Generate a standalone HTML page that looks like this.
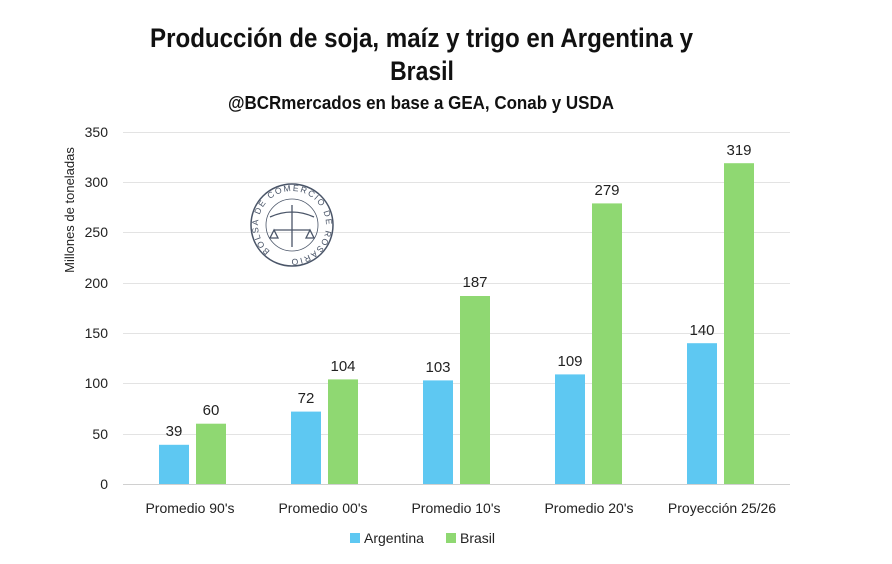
<!DOCTYPE html>
<html><head><meta charset="utf-8"><style>
body{margin:0;background:#fff;width:892px;height:559px;overflow:hidden}
svg text{font-family:"Liberation Sans",sans-serif}
</style></head><body>
<svg width="892" height="559" xmlns="http://www.w3.org/2000/svg">
<text x="150" y="47" textLength="543" lengthAdjust="spacingAndGlyphs" font-weight="bold" font-size="27" fill="#111">Producción de soja, maíz y trigo en Argentina y</text>
<text x="422" y="80" text-anchor="middle" font-weight="bold" font-size="27" fill="#111" transform="translate(422,0) scale(0.85,1) translate(-422,0)">Brasil</text>
<text x="228" y="109" textLength="386" lengthAdjust="spacingAndGlyphs" font-weight="bold" font-size="18" fill="#111">@BCRmercados en base a GEA, Conab y USDA</text>
<g stroke="#e3e3e3" stroke-width="1">
<line x1="123" x2="790" y1="132.5" y2="132.5"/><line x1="123" x2="790" y1="182.5" y2="182.5"/>
<line x1="123" x2="790" y1="232.5" y2="232.5"/><line x1="123" x2="790" y1="283.5" y2="283.5"/>
<line x1="123" x2="790" y1="333.5" y2="333.5"/><line x1="123" x2="790" y1="383.5" y2="383.5"/>
<line x1="123" x2="790" y1="434.5" y2="434.5"/><line x1="123" x2="790" y1="484.5" y2="484.5" stroke="#d0d0d0"/>
</g>
<g font-size="14" fill="#222" text-anchor="end">
<text x="108" y="137">350</text><text x="108" y="187">300</text><text x="108" y="237">250</text>
<text x="108" y="288">200</text><text x="108" y="338">150</text><text x="108" y="388">100</text>
<text x="108" y="439">50</text><text x="108" y="489">0</text>
</g>
<text transform="translate(74,210) rotate(-90)" text-anchor="middle" font-size="13" fill="#222">Millones de toneladas</text>
<g transform="translate(292,225)" fill="none" stroke="#4a5568">
<circle r="41" stroke-width="1.5"/><circle r="26" stroke-width="0.8"/>
<path d="M0,-20 V22 M-22,-8 Q0,-18 22,-8 M-18,5 H18 M-18,5 l-4,8 h8 z M18,5 l-4,8 h8z" stroke-width="1.3"/>
</g>
<defs><path id="arc" d="M0,34 A34,34 0 1,1 0.1,34"/></defs>
<text transform="translate(292,225) rotate(40)" font-size="8.6" fill="#4a5568" textLength="190" lengthAdjust="spacing"><textPath href="#arc" textLength="190">BOLSA DE COMERCIO DE ROSARIO</textPath></text>
<g fill="#5ec8f2">
<rect x="159" y="444.8" width="30" height="39.2"/><rect x="291" y="411.6" width="30" height="72.4"/>
<rect x="423" y="380.4" width="30" height="103.6"/><rect x="555" y="374.4" width="30" height="109.6"/>
<rect x="687" y="343.2" width="30" height="140.8"/>
</g>
<g fill="#8fd872">
<rect x="196" y="423.7" width="30" height="60.3"/><rect x="328" y="379.4" width="30" height="104.6"/>
<rect x="460" y="296" width="30" height="188"/><rect x="592" y="203.4" width="30" height="280.6"/>
<rect x="724" y="163.2" width="30" height="320.8"/>
</g>
<g font-size="15" fill="#222" text-anchor="middle">
<text x="174" y="436">39</text><text x="211" y="415">60</text>
<text x="306" y="403">72</text><text x="343" y="371">104</text>
<text x="438" y="372">103</text><text x="475" y="287">187</text>
<text x="570" y="366">109</text><text x="607" y="195">279</text>
<text x="702" y="335">140</text><text x="739" y="155">319</text>
</g>
<g font-size="14" fill="#222" text-anchor="middle">
<text x="190" y="513">Promedio 90's</text><text x="323" y="513">Promedio 00's</text>
<text x="456" y="513">Promedio 10's</text><text x="589" y="513">Promedio 20's</text>
<text x="722" y="513">Proyección 25/26</text>
</g>
<rect x="350" y="533" width="10" height="10" fill="#5ec8f2"/>
<text x="364" y="543" font-size="14" fill="#222">Argentina</text>
<rect x="446" y="533" width="10" height="10" fill="#8fd872"/>
<text x="460" y="543" font-size="14" fill="#222">Brasil</text>
</svg>
</body></html>
